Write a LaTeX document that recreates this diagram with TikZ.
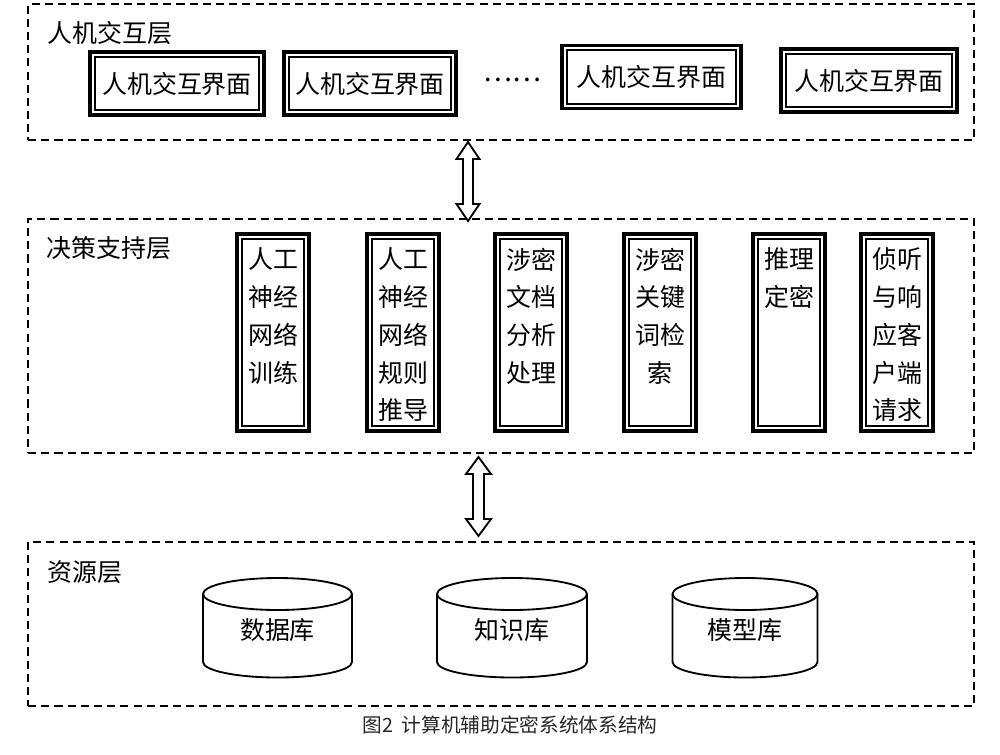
\documentclass[tikz,border=0pt]{standalone}
\usepackage{fontspec}
\usetikzlibrary{calc}
\newfontfamily\cjk{Noto Sans CJK SC}
\begin{document}
\begin{tikzpicture}[x=0.02cm, y=-0.02cm,
  layer/.style={draw, dash pattern=on 4.6pt off 2.9pt, line width=1.05pt, minimum width=18.92cm, inner sep=0, outer sep=0},
  dbox/.style={draw, line width=1.9pt, inner sep=0, outer sep=0,
    path picture={\draw[line width=0.95pt]
      ([shift={(2.7pt,2.7pt)}]path picture bounding box.south west) rectangle
      ([shift={(-2.7pt,-2.7pt)}]path picture bounding box.north east);}},
  hbox/.style={dbox, minimum height=1.26cm, font=\cjk\fontsize{14.2pt}{21.5pt}\selectfont},
  vbox/.style={dbox, minimum width=1.44cm, minimum height=3.94cm},
  vtext/.style={anchor=north, align=center, inner sep=0, font=\cjk\fontsize{14.2pt}{21.5pt}\selectfont},
  lname/.style={anchor=west, inner sep=0, font=\cjk\fontsize{14.2pt}{21.5pt}\selectfont},
  dbtext/.style={inner sep=0, font=\cjk\fontsize{14.2pt}{21.5pt}\selectfont},
  cyl/.style={line width=1.05pt},
  bigarrow/.style={draw, line width=1.05pt, fill=white, line join=miter}
]
\useasboundingbox (0,0) rectangle (1000,754);

% layers
\node[layer, minimum height=2.72cm] (L1) at (501,72) {};
\node[layer, minimum height=4.68cm] (L2) at (501,336) {};
\node[layer, minimum height=3.28cm] (L3) at (501,624) {};
\node[lname] (n1) at (47,33) {人机交互层};
\node[lname] (n2) at (46,248) {决策支持层};
\node[lname] (n3) at (47,572) {资源层};

% interaction layer
\node[hbox, minimum width=3.48cm] (h1) at (177,83.5) {人机交互界面};
\node[hbox, minimum width=3.44cm] (h2) at (370,83.5) {人机交互界面};
\node[dbtext, font=\cjk\fontsize{15.5pt}{21.5pt}\selectfont] (dots) at (512,80) {……};
\node[hbox, minimum width=3.58cm] (h3) at (651.5,77) {人机交互界面};
\node[hbox, minimum width=3.52cm] (h4) at (869,80.5) {人机交互界面};

% decision layer
\node[vbox] (d1) at (273,332.5) {};
\node[vbox] (d2) at (403,332.5) {};
\node[vbox] (d3) at (531,332.5) {};
\node[vbox] (d4) at (660,332.5) {};
\node[vbox] (d5) at (789,332.5) {};
\node[vbox] (d6) at (897,332.5) {};
\node[vtext] (t1) at ([yshift=-0.27cm]d1.north) {人工\\神经\\网络\\训练};
\node[vtext] (t2) at ([yshift=-0.27cm]d2.north) {人工\\神经\\网络\\规则\\推导};
\node[vtext] (t3) at ([yshift=-0.27cm]d3.north) {涉密\\文档\\分析\\处理};
\node[vtext] (t4) at ([yshift=-0.27cm]d4.north) {涉密\\关键\\词检\\索};
\node[vtext] (t5) at ([yshift=-0.27cm]d5.north) {推理\\定密};
\node[vtext] (t6) at ([yshift=-0.27cm]d6.north) {侦听\\与响\\应客\\户端\\请求};

% arrows between layers
\coordinate (a1) at (468,142);
\draw[bigarrow] (a1) -- ++(11.5,17) -- ++(-6.5,0) -- ++(0,45) -- ++(6.5,0) -- ++(-11.5,17)
  -- ++(-11.5,-17) -- ++(6.5,0) -- ++(0,-45) -- ++(-6.5,0) -- cycle;
\coordinate (a2) at (478.5,457);
\draw[bigarrow] (a2) -- ++(12.5,17) -- ++(-7,0) -- ++(0,45) -- ++(7,0) -- ++(-12.5,17)
  -- ++(-12.5,-17) -- ++(7,0) -- ++(0,-45) -- ++(-7,0) -- cycle;

% resource layer cylinders
\foreach \cx/\rx in {277.5/1.49cm, 512/1.50cm, 745/1.45cm}{
  \draw[cyl] ($(\cx,594)+(-\rx,0)$) -- ($(\cx,662)+(-\rx,0)$)
    arc[start angle=180, end angle=360, x radius=\rx, y radius=0.31cm]
    -- ($(\cx,594)+(\rx,0)$);
  \draw[cyl] (\cx,594) ellipse [x radius=\rx, y radius=0.32cm];
}
\node[dbtext] (db1) at (277.5,630) {数据库};
\node[dbtext] (db2) at (512,630) {知识库};
\node[dbtext] (db3) at (745,630) {模型库};

% caption
\node[inner sep=0, font=\cjk\fontsize{11.2pt}{13pt}\selectfont, text=black!85] (cap) at (510,725) {图2\hspace{0.45em}计算机辅助定密系统体系结构};
\end{tikzpicture}
\end{document}
